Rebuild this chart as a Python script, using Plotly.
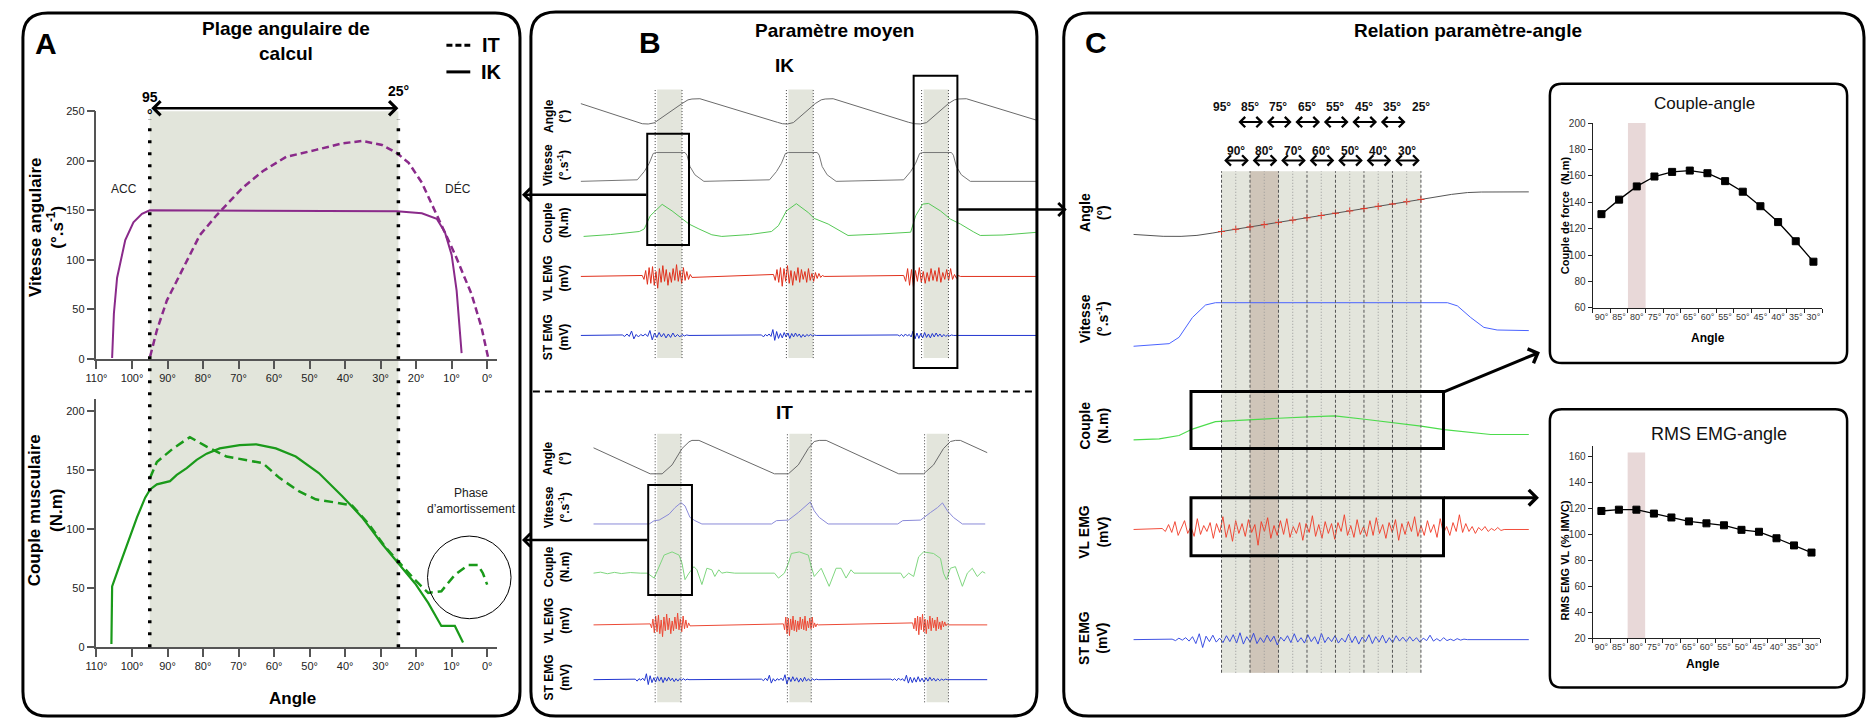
import numpy as np
import plotly.graph_objects as go

W, H = 1866, 725
FONT = "Liberation Sans, Arial, Helvetica, sans-serif"

# ======================= DATA =======================
# ---- Panel A (angle in degrees) ----
a_ticks = [110, 100, 90, 80, 70, 60, 50, 40, 30, 20, 10, 0]
calc_range = [95, 25]

ik_vel_angle = [105.6, 105.1, 104.2, 102.8, 101.9, 99.6, 97.2, 95.0, 60.0, 25.4, 18.4, 14.2, 11.9, 10.0, 8.6, 7.7, 7.2]
ik_vel = [1, 46, 82, 105, 120, 138, 146.5, 150, 149.5, 149, 147, 141.5, 128, 105, 69, 32, 6]

it_vel_angle = [94.9, 93.0, 90.2, 85.6, 80.9, 76.2, 68.8, 63.2, 56.6, 48.2, 40.8, 35.2, 29.6, 25.4, 22.1, 18.4, 13.7, 9.0, 4.4, 1.6, -0.3]
it_vel = [2.6, 29, 59, 92, 125, 145, 173, 189.5, 204, 211, 217.6, 220, 216, 207.7, 198, 178, 141.5, 105, 65.5, 32, 1]

ik_couple_angle = [105.8, 105.6, 103.3, 101.0, 98.6, 96.3, 94.9, 93.0, 89.3, 87.4, 84.6, 81.8, 79.0, 75.3, 69.7, 65.0,
                   59.5, 53.9, 47.4, 40.8, 35.2, 29.6, 25.0, 20.3, 16.6, 12.9, 9.1, 6.8]
ik_couple = [2.8, 51.5, 71, 90.5, 110, 126.7, 133.7, 138, 140.7, 146, 151.8, 158.8, 164, 168.5, 171.3, 171.9,
             168.5, 161.6, 147.6, 128, 110, 87.7, 71, 54, 37.6, 18, 18, 4]

it_couple_angle = [94.9, 93.0, 88.4, 83.7, 79.0, 73.4, 63.2, 58.5, 52.9, 48.3, 42.7, 38.0, 33.4, 28.7, 24.1, 20.3,
                   16.6, 12.9, 9.1, 5.4, 2.6, 1.2, 0.0]
it_couple = [143.5, 157, 168.5, 178, 170, 161.6, 156, 143.5, 132, 125.3, 122.6, 120, 104.5, 85, 69.6, 57,
             46, 47.4, 61.3, 69.6, 69.6, 62.7, 53]

# ---- Panel B (time in s) ----
ik_bands = [(0.77, 1.02), (2.09, 2.34), (3.45, 3.70)]
it_bands = [(0.77, 1.01), (2.10, 2.32), (3.48, 3.70)]

ik_t_angle = [0.00, 0.56, 0.62, 0.68, 0.74, 1.02, 1.08, 1.12, 1.20, 1.98, 2.03, 2.08, 2.14, 2.36, 2.42, 2.46, 2.54,
              3.30, 3.36, 3.42, 3.48, 3.70, 3.76, 3.80, 3.88, 4.60]
ik_angle = [82, 16, 11, 10, 14, 82, 95, 98, 99, 16, 11, 10, 15, 82, 95, 98, 99, 16, 11, 10, 15, 82, 95, 98, 99, 22]

ik_t_vel = [0.00, 0.57, 0.64, 0.69, 0.73, 0.76, 1.05, 1.07, 1.10, 1.15, 1.24, 1.90, 1.97, 2.02, 2.06, 2.09, 2.38,
            2.40, 2.43, 2.48, 2.57, 3.25, 3.32, 3.37, 3.41, 3.44, 3.73, 3.75, 3.78, 3.83, 3.92, 4.60]
ik_vel_b = [0, 8, 51, 94, 145, 150, 150, 136, 77, 34, 0, 8, 51, 94, 145, 150, 150, 136, 77, 34, 0,
            8, 51, 94, 145, 150, 150, 136, 77, 34, 0, 0]

ik_t_couple = [0.03, 0.30, 0.59, 0.64, 0.70, 0.82, 0.92, 1.02, 1.09, 1.19, 1.32, 1.42, 1.70, 1.92, 1.99, 2.07, 2.17,
               2.29, 2.35, 2.49, 2.69, 3.00, 3.32, 3.37, 3.44, 3.50, 3.62, 3.72, 3.82, 3.95, 4.02, 4.25, 4.60]
ik_couple_b = [30, 38, 51, 62, 118, 167, 139, 104, 83, 62, 37, 30, 38, 51, 76, 139, 170, 132, 107, 83, 34, 40,
               48, 118, 168, 171, 139, 104, 83, 50, 34, 36, 48]

it_t_angle = [0.13, 0.70, 0.82, 0.92, 1.02, 1.09, 1.12, 1.19, 1.95, 2.09, 2.19, 2.29, 2.35, 2.40, 2.47, 3.20, 3.45,
              3.55, 3.65, 3.72, 3.77, 3.82, 4.09]
it_angle = [80, 10, 10, 34, 78, 96, 100, 100, 10, 10, 34, 78, 97, 100, 100, 10, 10, 34, 78, 97, 100, 100, 67]

it_t_vel = [0.13, 0.69, 0.74, 0.79, 0.89, 0.95, 1.01, 1.05, 1.10, 1.15, 1.22, 1.92, 1.97, 2.09, 2.19, 2.25, 2.31,
            2.35, 2.40, 2.49, 3.19, 3.24, 3.42, 3.52, 3.59, 3.64, 3.69, 3.75, 3.84, 4.07]
it_vel_b = [0, 0, 36, 42, 106, 177, 230, 195, 71, 36, 0, 0, 36, 42, 124, 177, 237, 142, 71, 0, 0, 36, 42, 124,
            177, 227, 142, 71, 0, 0]

it_t_couple = [0.13, 0.20, 0.27, 0.34, 0.41, 0.50, 0.60, 0.67, 0.74, 0.79, 0.84, 0.92, 0.99, 1.02, 1.05, 1.09,
               1.14, 1.17, 1.22, 1.27, 1.32, 1.35, 1.39, 1.42, 1.47, 1.55, 1.70, 1.95, 1.99, 2.05, 2.09, 2.12,
               2.20, 2.29, 2.32, 2.35, 2.42, 2.50, 2.57, 2.62, 2.67, 2.72, 2.75, 2.90, 3.22, 3.25, 3.30, 3.35,
               3.40, 3.45, 3.55, 3.62, 3.65, 3.68, 3.72, 3.77, 3.84, 3.89, 3.94, 3.99, 4.04, 4.07]
it_couple_b = [0, 5, -3, 4, -2, 3, 0, 0, -25, 33, 92, 108, 92, 50, -33, 0, 33, 17, -58, 25, 17, -17, 17, 0, 5,
               0, 0, 0, -25, 0, 50, 100, 108, 92, 33, -17, 25, -67, 25, 25, -25, 17, 0, 0, 0, -25, 0, -17,
               83, 108, 100, 75, 0, -33, 25, 33, -67, 0, 25, -17, 8, 0]

# EMG bursts (mV, hand-read)
vl_b1 = [0.1, -0.3, 0.6, -0.8, 0.9, -0.7, 1.0, -0.9, 0.5, -1.2, 0.8, -0.6, 1.1, -0.5, 0.7, -0.9, 0.4, -0.6, 0.8,
         -0.4, 1.2, -0.5, 0.6, -0.7, 0.9, -0.4, 0.5, -0.3, 0.2, -0.1]
vl_b2 = [0.2, -0.4, 0.7, -0.6, 0.9, -1.0, 0.8, -0.5, 1.1, -0.7, 0.6, -0.9, 0.5, -0.4, 0.9, -0.6, 0.7, -0.3, 0.5,
         -0.6, 0.8, -0.4, 0.3, -0.5, 0.4, -0.2, 0.3, -0.1, 0.1, 0.0]
vl_b3 = [0.1, -0.5, 0.8, -0.9, 0.7, -1.1, 0.6, -0.5, 0.9, -0.6, 0.5, -0.7, 0.4, -0.5, 0.8, -0.4, 0.6, -0.5, 0.9,
         -0.6, 0.4, -0.3, 0.7, -0.4, 0.8, -0.3, 0.2, -0.2, 0.1, 0.0]
st_b1 = [0.1, -0.2, 0.3, -0.2, 0.9, -0.7, 0.2, -0.3, 0.2, -0.1, 0.3, -0.2, 1.0, -0.9, 0.5, -0.4, 0.6, -0.3, 0.4,
         -0.5, 0.3, -0.4, 0.5, -0.3, 0.2, -0.3, 0.2, -0.1, 0.1, 0.0]
st_b2 = [0.1, -0.3, 0.2, -0.1, 0.3, -0.2, 1.2, -1.0, 0.8, -0.6, 0.4, -0.5, 0.6, -0.3, 0.5, -0.6, 0.4, -0.3, 0.5,
         -0.2, 0.3, -0.4, 0.2, -0.3, 0.2, -0.1, 0.2, -0.1, 0.1, 0.0]
st_b3 = [0.1, -0.1, 0.2, -0.2, 0.3, -0.1, 0.2, -0.3, 0.9, -0.7, 0.5, -0.6, 0.4, -0.5, 0.6, -0.4, 0.3, -0.5, 0.4,
         -0.3, 0.5, -0.2, 0.3, -0.3, 0.2, -0.2, 0.1, -0.1, 0.1, 0.0]
ik_vl_windows = [(0.62, 1.12), (1.94, 2.45), (3.25, 3.82)]
ik_st_windows = [(0.42, 1.09), (1.82, 2.37), (3.19, 3.75)]
it_vl_windows = [(0.70, 1.10), (2.04, 2.39), (3.34, 3.70)]
it_st_windows = [(0.55, 1.09), (1.82, 2.39), (3.12, 3.69)]

# ---- Panel C (time in s) ----
c_t_angle = [0.0, 0.07, 0.15, 0.24, 0.32, 0.40, 0.4435, 1.4465, 1.52, 1.60, 1.68, 1.75, 1.989]
c_angle = [101.4, 103.9, 105.5, 105.6, 103.5, 98.3, 95, 25, 19.5, 14.0, 10.0, 8.8, 8.5]
c_marks = [95, 90, 85, 80, 75, 70, 65, 60, 55, 50, 45, 40, 35, 30, 25]
c_row1_labels = [95, 85, 75, 65, 55, 45, 35, 25]
c_row1_centers = [85, 75, 65, 55, 45, 35]
c_row2_labels = [90, 80, 70, 60, 50, 40, 30]
c_highlight = [85, 75]

c_t_vel = [0.0, 0.18, 0.23, 0.297, 0.363, 0.413, 1.58, 1.63, 1.697, 1.763, 1.83, 1.989]
c_vel = [0, 9, 31, 99, 142, 150, 150, 139, 99, 65, 56, 54]

c_t_couple = [0.0, 0.13, 0.23, 0.297, 0.413, 0.563, 0.73, 0.88, 1.013, 1.163, 1.297, 1.447, 1.563, 1.713, 1.797, 1.989]
c_couple = [116, 118, 125, 138, 153, 157, 160, 163, 165, 158, 152, 144, 137, 130, 127, 127]

c_vl = [0.1, -0.2, 0.5, -0.3, 0.8, -0.6, 0.2, 0.9, -0.4, 0.3, -0.7, 1.1, -0.5, 0.4, -0.2, 0.7, -0.9, 0.6, -0.3,
        1.3, -0.8, 0.5, -1.2, 0.9, -0.4, 0.6, -0.7, 1.0, -0.3, 0.5, -1.6, 0.8, -0.2, 1.2, -0.9, 0.4, -0.6, 0.9,
        -0.5, 1.1, -0.8, 0.3, -0.4, 0.7, -1.1, 0.6, -0.3, 1.4, -0.7, 0.5, -0.9, 0.8, -0.4, 0.6, -1.0, 0.7, -0.2,
        1.5, -0.6, 0.4, -0.8, 1.0, -0.5, 0.3, -0.7, 0.9, -0.6, 1.2, -0.4, 0.5, -0.9, 0.7, -0.3, 1.0, -1.1, 0.6,
        -0.5, 0.8, -0.2, 1.3, -0.7, 0.4, -0.6, 0.9, -0.3, 0.5, -0.8, 1.1, -0.4, 0.3, -0.6, 0.7, -0.2, 1.5, -0.3,
        0.6, -0.2, 0.3, -0.4, 0.2, -0.1, 0.3, -0.2, 0.1, -0.1, 0.2, -0.1, 0.0]
c_vl_window = (0.145, 1.865)
c_st = [0.1, -0.2, 0.3, -0.1, 0.4, -0.3, 0.6, -0.8, 1.2, -1.6, 0.7, -0.4, 0.9, -0.5, 0.3, -0.6, 0.8, -0.4, 1.0,
        -0.7, 1.4, -0.9, 0.6, -0.5, 1.3, -0.8, 0.4, -0.6, 0.9, -0.4, 0.7, -1.1, 0.5, -0.3, 0.8, -0.6, 1.2, -0.5,
        0.4, -0.7, 1.0, -0.4, 0.6, -0.9, 1.3, -0.6, 0.5, -0.4, 0.8, -0.7, 0.3, -0.5, 1.1, -0.6, 0.7, -0.9, 0.5,
        -0.4, 1.0, -0.8, 0.6, -0.5, 0.9, -0.7, 0.4, -0.6, 0.8, -0.3, 0.5, -0.4, 0.6, -0.3, 0.4, -0.5, 0.3, -0.2,
        0.9, -0.3, 0.2, -0.3, 0.4, -0.2, 0.1, -0.2, 0.2, -0.1, 0.1, 0.0]
c_st_window = (0.195, 1.68)

# ---- Insets ----
inset_angles = [90, 85, 80, 75, 70, 65, 60, 55, 50, 45, 40, 35, 30]
inset_couple = [131, 142, 152, 159.5, 163, 164, 162, 156, 148, 137, 125, 110.5, 95]
inset_rms = [118, 119, 119, 116, 113, 110, 108.5, 107, 103.5, 102, 97, 91.5, 86]
inset_highlight = [82.5, 77.5]

# ======================= HELPERS =======================
def X(x):
    return x / W


def Y(y):
    return 1 - y / H


def dom_x(l, r):
    return [X(l), X(r)]


def dom_y(top, bot):
    return [Y(bot), Y(top)]


def cal(va, pa, vb, pb, top, bot):
    k = (vb - va) / (pb - pa)
    return [va + (bot - pa) * k, va + (top - pa) * k]


def emg_series(t0, t1, windows, bursts):
    t, v = [t0], [0.0]
    for (a, b), burst in zip(windows, bursts):
        t += list(np.linspace(a, b, len(burst)))
        v += list(burst)
    t.append(t1)
    v.append(0.0)
    return t, v


def rrect(x0, y0, x1, y1, r):
    return (f"M {X(x0 + r)},{Y(y0)} L {X(x1 - r)},{Y(y0)} Q {X(x1)},{Y(y0)} {X(x1)},{Y(y0 + r)} "
            f"L {X(x1)},{Y(y1 - r)} Q {X(x1)},{Y(y1)} {X(x1 - r)},{Y(y1)} L {X(x0 + r)},{Y(y1)} "
            f"Q {X(x0)},{Y(y1)} {X(x0)},{Y(y1 - r)} L {X(x0)},{Y(y0 + r)} Q {X(x0)},{Y(y0)} {X(x0 + r)},{Y(y0)} Z")


fig = go.Figure()
shapes, annotations = [], []
layout = {}


def txt(x, y, s, size, bold=False, angle=0, color="black", xanchor="center", yanchor="middle"):
    annotations.append(dict(x=X(x), y=Y(y), xref="paper", yref="paper", text=("<b>%s</b>" % s) if bold else s,
                            showarrow=False, font=dict(size=size, color=color, family=FONT), textangle=angle,
                            xanchor=xanchor, yanchor=yanchor))


def arrow_px(hx, hy, tx, ty, width=2.5, head=4, size=1.0):
    annotations.append(dict(x=X(hx), y=Y(hy), xref="paper", yref="paper", ax=tx - hx, ay=ty - hy,
                            axref="pixel", ayref="pixel", text="", showarrow=True, arrowhead=head,
                            arrowsize=size, arrowwidth=width, arrowcolor="black"))


def line(color, width=1, dash=None):
    d = dict(color=color, width=width)
    if dash:
        d["dash"] = dash
    return d


# ======================= PANEL A =======================
ax_common = dict(showgrid=False, zeroline=False, showline=True, linecolor="#555", linewidth=1.5,
                 ticks="outside", tickcolor="#555", tickwidth=1.5, ticklen=8,
                 tickfont=dict(size=11, color="#222", family=FONT))
a_xrange = [110, -2.8]
layout["xaxis"] = dict(domain=dom_x(86, 489), range=a_xrange, anchor="y", tickmode="array", tickvals=a_ticks,
                       ticktext=["%d°" % v for v in a_ticks], **ax_common)
layout["yaxis"] = dict(domain=dom_y(107, 359), range=[0, 250], anchor="x", tickmode="array",
                       tickvals=[0, 50, 100, 150, 200, 250], **ax_common)
layout["xaxis2"] = dict(domain=dom_x(86, 489), range=a_xrange, anchor="y2", tickmode="array", tickvals=a_ticks,
                        ticktext=["%d°" % v for v in a_ticks], **ax_common)
layout["yaxis2"] = dict(domain=dom_y(400, 652), range=[0, 210], anchor="x2", tickmode="array",
                        tickvals=[0, 50, 100, 150, 200], **ax_common)

PURPLE, GREEN = "#8a2a8a", "#1a9a1a"
fig.add_trace(go.Scatter(x=ik_vel_angle, y=ik_vel, xaxis="x", yaxis="y", mode="lines", line=line(PURPLE, 2)))
fig.add_trace(go.Scatter(x=it_vel_angle, y=it_vel, xaxis="x", yaxis="y", mode="lines",
                         line=line(PURPLE, 2.5, "7px,4px")))
fig.add_trace(go.Scatter(x=ik_couple_angle, y=ik_couple, xaxis="x2", yaxis="y2", mode="lines",
                         line=line(GREEN, 2.2)))
fig.add_trace(go.Scatter(x=it_couple_angle, y=it_couple, xaxis="x2", yaxis="y2", mode="lines",
                         line=line(GREEN, 2.5, "9px,5px")))

shapes.append(dict(type="rect", xref="x", yref="paper", x0=calc_range[0], x1=calc_range[1], y0=Y(652), y1=Y(107),
                   fillcolor="#e2e5db", line=dict(width=0), layer="below"))
for a in calc_range:
    shapes.append(dict(type="line", xref="x", yref="paper", x0=a, x1=a, y0=Y(652), y1=Y(115),
                       line=dict(color="black", width=3.5, dash="3px,9px")))
annotations.append(dict(x=calc_range[1], y=Y(104), xref="x", yref="paper", ax=calc_range[0], ay=0, axref="x",
                        ayref="pixel", text="", showarrow=True, arrowhead=4, startarrowhead=4,
                        arrowside="end+start", arrowsize=1.1, startarrowsize=1.1, arrowwidth=2.5,
                        arrowcolor="black"))
annotations.append(dict(x=calc_range[0], y=Y(82), xref="x", yref="paper", text="<b>%d<br>°</b>" % calc_range[0],
                        showarrow=False, font=dict(size=14, family=FONT, color="black")))
annotations.append(dict(x=calc_range[1], y=Y(76), xref="x", yref="paper", text="<b>%d°</b>" % calc_range[1],
                        showarrow=False, font=dict(size=14, family=FONT, color="black")))

txt(35, 38, "A", 30, bold=True)
txt(277, 36, "Plage angulaire de<br>calcul", 19, bold=True)
shapes.append(dict(type="line", xref="paper", yref="paper", x0=X(438), x1=X(462), y0=Y(40), y1=Y(40),
                   line=dict(color="black", width=3, dash="6px,3px")))
shapes.append(dict(type="line", xref="paper", yref="paper", x0=X(438), x1=X(462), y0=Y(67), y1=Y(67),
                   line=dict(color="black", width=3)))
txt(483, 40, "IT", 20, bold=True)
txt(483, 67, "IK", 20, bold=True)
txt(114, 186, "ACC", 12, color="#222")
txt(450, 186, "DÉC", 12, color="#222")
txt(35, 225, "Vitesse angulaire<br>(°.s<sup>-1</sup>)", 17, bold=True, angle=-90)
txt(35, 513, "Couple musculaire<br>(N.m)", 17, bold=True, angle=-90)
txt(283, 704, "Angle", 17, bold=True)
txt(463, 503, "Phase<br>d’amortissement", 12, color="#222")
shapes.append(dict(type="circle", xref="paper", yref="paper", x0=X(419), x1=X(503), y0=Y(623), y1=Y(539),
                   line=dict(color="black", width=1)))

# ======================= PANEL B =======================
layout["xaxis3"] = dict(domain=dom_x(573, 1033), range=[0, 4.6], anchor="y3", visible=False)
b_rows_ik = [
    ("y3", cal(100, 94, 10, 120, 85, 128), 85, 128),
    ("y4", cal(150, 149, 0, 178.3, 140, 185), 140, 185),
    ("y5", cal(170, 201, 30, 234.3, 192, 242), 192, 242),
    ("y6", cal(0, 275, 1, 265, 255, 295), 255, 295),
    ("y7", cal(0, 335, 1, 330, 322, 348), 322, 348),
]
b_rows_it = [
    ("y8", cal(100, 441.7, 10, 475.7, 436, 480), 436, 480),
    ("y9", cal(230, 505, 0, 526.7, 497, 532), 497, 532),
    ("y10", cal(0, 576.7, 100, 556.7, 548, 592), 548, 592),
    ("y11", cal(0, 629.3, 1, 619.3, 610, 650), 610, 650),
    ("y12", cal(0, 685, 1, 680, 672, 698), 672, 698),
]
for name, rng, top, bot in b_rows_ik + b_rows_it:
    layout["yaxis" + name[1:]] = dict(domain=dom_y(top, bot), range=rng, anchor="x3", visible=False)

GRAY = "#6a6a6a"
fig.add_trace(go.Scatter(x=ik_t_angle, y=ik_angle, xaxis="x3", yaxis="y3", mode="lines", line=line(GRAY, 1)))
fig.add_trace(go.Scatter(x=ik_t_vel, y=ik_vel_b, xaxis="x3", yaxis="y4", mode="lines", line=line("#777", 1)))
fig.add_trace(go.Scatter(x=ik_t_couple, y=ik_couple_b, xaxis="x3", yaxis="y5", mode="lines",
                         line=line("#55c855", 1)))
t, v = emg_series(0.0, 4.6, ik_vl_windows, [vl_b1, vl_b2, vl_b3])
fig.add_trace(go.Scatter(x=t, y=v, xaxis="x3", yaxis="y6", mode="lines", line=line("#e0301c", 1)))
t, v = emg_series(0.0, 4.6, ik_st_windows, [st_b1, st_b2, st_b3])
fig.add_trace(go.Scatter(x=t, y=v, xaxis="x3", yaxis="y7", mode="lines", line=line("#2035d0", 1)))

fig.add_trace(go.Scatter(x=it_t_angle, y=it_angle, xaxis="x3", yaxis="y8", mode="lines", line=line(GRAY, 1)))
fig.add_trace(go.Scatter(x=it_t_vel, y=it_vel_b, xaxis="x3", yaxis="y9", mode="lines", line=line("#8a8ad8", 1)))
fig.add_trace(go.Scatter(x=it_t_couple, y=it_couple_b, xaxis="x3", yaxis="y10", mode="lines",
                         line=line("#7fd67f", 1)))
t, v = emg_series(it_t_angle[0], it_t_angle[-1], it_vl_windows, [vl_b1, vl_b3, vl_b2])
fig.add_trace(go.Scatter(x=t, y=v, xaxis="x3", yaxis="y11", mode="lines", line=line("#ec4a36", 1)))
t, v = emg_series(it_t_angle[0], it_t_angle[-1], it_st_windows, [st_b2, st_b1, st_b3])
fig.add_trace(go.Scatter(x=t, y=v, xaxis="x3", yaxis="y12", mode="lines", line=line("#2035d0", 1)))

for bands, top, bot in [(ik_bands, 85, 358), (it_bands, 435, 708)]:
    for a, b in bands:
        shapes.append(dict(type="rect", xref="x3", yref="paper", x0=a, x1=b, y0=Y(bot), y1=Y(top),
                           fillcolor="#e3e5dc", line=dict(width=0), layer="below"))
        for e in (a - 0.02, b):
            shapes.append(dict(type="line", xref="x3", yref="paper", x0=e, x1=e, y0=Y(bot), y1=Y(top),
                               line=dict(color="#444", width=1, dash="1px,2px")))

# boxes in B
for x0, x1, top, bot in [(0.67, 1.09, 130, 243), (3.35, 3.79, 71, 368), (0.68, 1.12, 487, 599)]:
    shapes.append(dict(type="rect", xref="x3", yref="paper", x0=x0, x1=x1, y0=Y(bot), y1=Y(top),
                       line=dict(color="black", width=2)))
shapes.append(dict(type="line", xref="paper", yref="paper", x0=X(525), x1=X(1030), y0=Y(392), y1=Y(392),
                   line=dict(color="black", width=2, dash="7px,5px")))

txt(643, 37, "B", 30, bold=True)
txt(828, 25, "Paramètre moyen", 19, bold=True)
txt(778, 61, "IK", 19, bold=True)
txt(778, 413, "IT", 19, bold=True)
b_labels = ["Angle<br>(°)", "Vitesse<br>(°.s<sup>-1</sup>)", "Couple<br>(N.m)", "VL EMG<br>(mV)", "ST EMG<br>(mV)"]
for lab, yy in zip(b_labels, [112, 162, 220, 277, 337]):
    txt(549, yy, lab, 12, bold=True, angle=-90)
for lab, yy in zip(b_labels, [460, 510, 570, 625, 683]):
    txt(549, yy, lab, 12, bold=True, angle=-90)

# ======================= PANEL C =======================
layout["xaxis4"] = dict(domain=dom_x(1129, 1527), range=[0, 1.99], anchor="y13", visible=False)
c_rows = [
    ("y13", cal(95, 229.3, 25, 196.7, 178, 248), 178, 248),
    ("y14", cal(150, 301.7, 0, 346, 290, 356), 290, 356),
    ("y15", cal(165, 416.7, 125, 436.7, 405, 452), 405, 452),
    ("y16", cal(0, 532.3, 1, 522.3, 505, 560), 505, 560),
    ("y17", cal(0, 644.3, 1, 639.3, 628, 662), 628, 662),
]
for name, rng, top, bot in c_rows:
    layout["yaxis" + name[1:]] = dict(domain=dom_y(top, bot), range=rng, anchor="x4", visible=False)

i0, i1 = c_angle.index(95), c_angle.index(25)
_xp = c_angle[i0:i1 + 1][::-1]
_fp = c_t_angle[i0:i1 + 1][::-1]


def mt(a):
    return float(np.interp(a, _xp, _fp))


band_top, band_bot = 168, 678
shapes.append(dict(type="rect", xref="x4", yref="paper", x0=mt(c_marks[0]), x1=mt(c_marks[-1]), y0=Y(band_bot),
                   y1=Y(band_top), fillcolor="#e3e5dc", line=dict(width=0), layer="below"))
shapes.append(dict(type="rect", xref="x4", yref="paper", x0=mt(c_highlight[0]), x1=mt(c_highlight[1]),
                   y0=Y(band_bot), y1=Y(band_top), fillcolor="#cfc5b9", line=dict(width=0), layer="below"))
for i, a in enumerate(c_marks):
    dark = (i % 2 == 0)
    shapes.append(dict(type="line", xref="x4", yref="paper", x0=mt(a), x1=mt(a), y0=Y(band_bot), y1=Y(band_top),
                       line=dict(color="#555" if dark else "#999", width=1,
                                 dash="3px,2px" if dark else "1px,2px")))

fig.add_trace(go.Scatter(x=c_t_angle, y=c_angle, xaxis="x4", yaxis="y13", mode="lines", line=line("#555", 1)))
fig.add_trace(go.Scatter(x=[mt(a) for a in c_marks], y=c_marks, xaxis="x4", yaxis="y13", mode="markers",
                         marker=dict(symbol="cross-thin", size=5, line=dict(color="#ee3322", width=1))))
fig.add_trace(go.Scatter(x=c_t_vel, y=c_vel, xaxis="x4", yaxis="y14", mode="lines", line=line("#4a63ff", 1)))
fig.add_trace(go.Scatter(x=c_t_couple, y=c_couple, xaxis="x4", yaxis="y15", mode="lines",
                         line=line("#4cdc4c", 1.2)))
t = [0.0] + list(np.linspace(c_vl_window[0], c_vl_window[1], len(c_vl))) + [1.989]
v = [0.0] + c_vl + [0.0]
fig.add_trace(go.Scatter(x=t, y=v, xaxis="x4", yaxis="y16", mode="lines", line=line("#f03a26", 0.9)))
t = [0.0] + list(np.linspace(c_st_window[0], c_st_window[1], len(c_st))) + [1.989]
v = [0.0] + c_st + [0.0]
fig.add_trace(go.Scatter(x=t, y=v, xaxis="x4", yaxis="y17", mode="lines", line=line("#2a40e0", 0.9)))

for a in c_row1_labels:
    annotations.append(dict(x=mt(a), y=Y(94), xref="x4", yref="paper", text="<b>%d°</b>" % a, showarrow=False,
                            font=dict(size=12, family=FONT, color="#111")))
for a in c_row2_labels:
    annotations.append(dict(x=mt(a), y=Y(138), xref="x4", yref="paper", text="<b>%d°</b>" % a, showarrow=False,
                            font=dict(size=12, family=FONT, color="#111")))
for centers, yy in [(c_row1_centers, 118), (c_row2_labels, 157)]:
    for c in centers:
        annotations.append(dict(x=mt(c - 4.6), y=Y(yy), xref="x4", yref="paper", ax=mt(c + 4.6), ay=0,
                                axref="x4", ayref="pixel", text="", showarrow=True, arrowhead=4,
                                startarrowhead=4, arrowside="end+start", arrowsize=1.0, startarrowsize=1.0,
                                arrowwidth=2, arrowcolor="black"))

for top, bot in [(392, 450), (500, 559)]:
    shapes.append(dict(type="rect", xref="x4", yref="paper", x0=0.29, x1=1.56, y0=Y(bot), y1=Y(top),
                       line=dict(color="black", width=3)))

txt(1091, 37, "C", 30, bold=True)
txt(1466, 25, "Relation paramètre-angle", 19, bold=True)
c_labels = ["Angle<br>(°)", "Vitesse<br>(°.s<sup>-1</sup>)", "Couple<br>(N.m)", "VL EMG<br>(mV)", "ST EMG<br>(mV)"]
for lab, yy in zip(c_labels, [210, 318, 427, 535, 643]):
    txt(1089, yy, lab, 14, bold=True, angle=-90)

# ======================= INSETS =======================
ins_x = dict(range=[92.5, 27.5], tickmode="array", tickvals=inset_angles,
             ticktext=["%d°" % a for a in inset_angles], ticks="outside", ticklen=0, tickcolor="#222",
             minor=dict(tickmode="array", tickvals=[92.5 - 5 * i for i in range(14)], ticks="outside",
                        ticklen=4, tickcolor="#222", tickwidth=1),
             showline=True, linecolor="#222", linewidth=1.2, showgrid=False, zeroline=False,
             tickfont=dict(size=9, color="#333", family=FONT))
ins_y = dict(ticks="outside", ticklen=4, tickcolor="#222", showline=True, linecolor="#222", linewidth=1.2,
             showgrid=False, zeroline=False, tickfont=dict(size=10, color="#333", family=FONT))
layout["xaxis5"] = dict(domain=dom_x(1591, 1822), anchor="y18", **ins_x)
layout["yaxis18"] = dict(domain=dom_y(119, 307), range=[60, 200], anchor="x5", tickmode="array",
                         tickvals=[60, 80, 100, 120, 140, 160, 180, 200], **ins_y)
layout["xaxis6"] = dict(domain=dom_x(1591, 1820), anchor="y19", **ins_x)
layout["yaxis19"] = dict(domain=dom_y(447, 643), range=[20, 168.3], anchor="x6", tickmode="array",
                         tickvals=[20, 40, 60, 80, 100, 120, 140, 160], **ins_y)

shapes.append(dict(type="rect", xref="x5", yref="y18", x0=inset_highlight[0], x1=inset_highlight[1], y0=60,
                   y1=200, fillcolor="#e8d8d8", line=dict(width=0), layer="below"))
shapes.append(dict(type="rect", xref="x6", yref="y19", x0=inset_highlight[0], x1=inset_highlight[1], y0=20,
                   y1=163, fillcolor="#e8d8d8", line=dict(width=0), layer="below"))
mk = dict(symbol="square", size=7, color="black", line=dict(color="black", width=1))
fig.add_trace(go.Scatter(x=inset_angles, y=inset_couple, xaxis="x5", yaxis="y18", mode="lines+markers",
                         line=line("black", 1.3), marker=mk))
fig.add_trace(go.Scatter(x=inset_angles, y=inset_rms, xaxis="x6", yaxis="y19", mode="lines+markers",
                         line=line("black", 1.3), marker=mk))

txt(1704, 99, "Couple-angle", 17, color="#111")
txt(1564, 213, "Couple de force  (N.m)", 11, bold=True, angle=-90)
txt(1707, 338, "Angle", 12, bold=True)
txt(1718, 435, "RMS EMG-angle", 18, color="#111")
txt(1563, 563, "RMS EMG VL (% IMVC)", 11, bold=True, angle=-90)
txt(1702, 669, "Angle", 12, bold=True)

# ======================= BORDERS & ARROWS =======================
for x0, y0, x1, y1, r, w in [(12, 7, 512, 722, 25, 3), (523, 6, 1032, 722, 25, 3), (1059, 7, 1864, 722, 25, 3),
                             (1548, 79, 1847, 363, 12, 2.5), (1548, 410, 1847, 693, 12, 2.5)]:
    shapes.append(dict(type="path", xref="paper", yref="paper", path=rrect(x0, y0, x1, y1, r),
                       line=dict(color="black", width=w)))

arrow_px(514, 192, 640, 192)
arrow_px(514, 543, 641, 543)
arrow_px(1062, 207, 952, 207)
arrow_px(1538, 352, 1441, 392, width=3)
arrow_px(1537, 500, 1441, 500, width=3)

layout.update(width=W, height=H, margin=dict(l=0, r=0, t=0, b=0), paper_bgcolor="white",
              plot_bgcolor="rgba(0,0,0,0)", showlegend=False, shapes=shapes, annotations=annotations,
              font=dict(family=FONT), hovermode=False)
fig.update_layout(**layout)
fig.write_html("out.html")
